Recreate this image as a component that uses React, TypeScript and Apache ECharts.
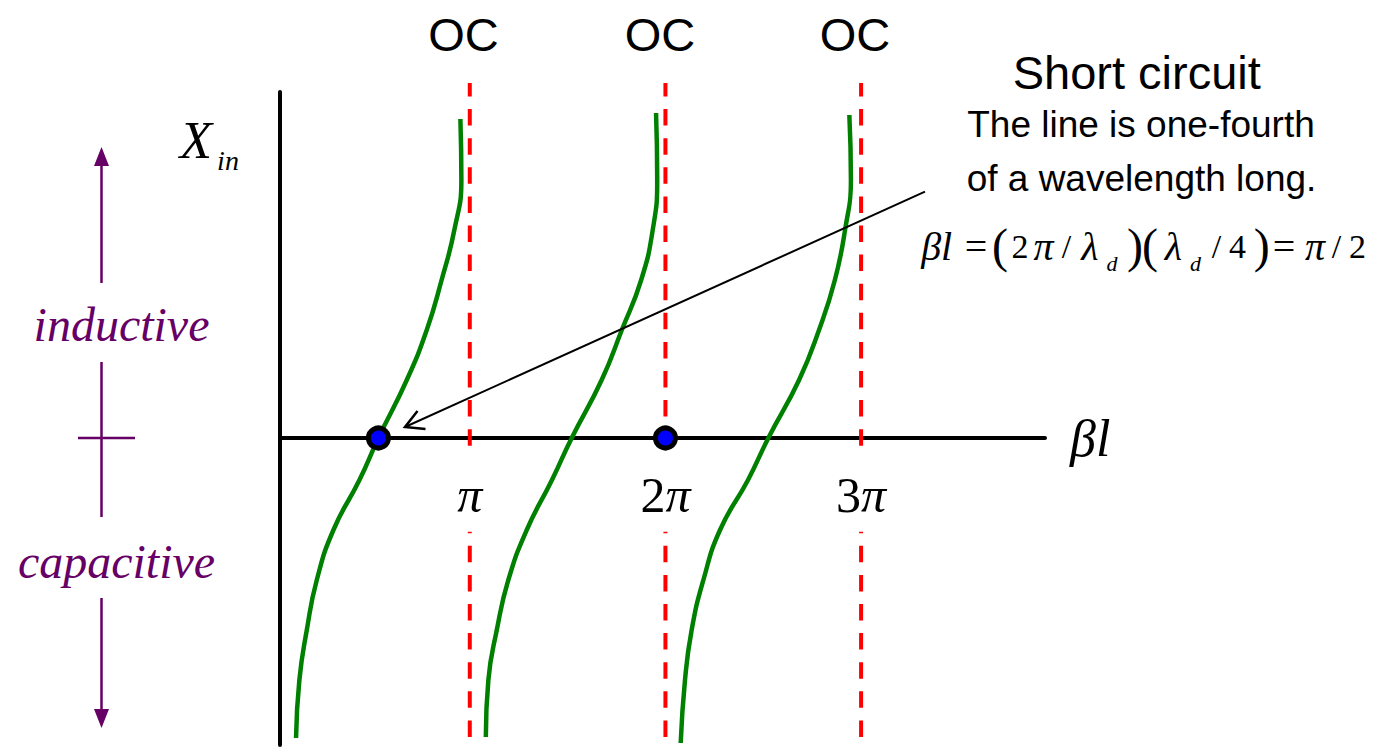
import React, { useEffect, useRef } from "react";
import * as echarts from "echarts";

// ---- data (x in multiples of π, y = input reactance in arbitrary units) ----
const PI_TICKS = [1, 2, 3];
const OC_LINES = [1, 2, 3];

const CURVE1_X = [0.112, 0.129, 0.167, 0.218, 0.303, 0.436, 0.533, 0.678, 0.78, 0.856, 0.921, 0.957, 0.952];
const CURVE1_Y = [-3.0, -2.42, -1.92, -1.42, -0.92, -0.42, 0, 0.58, 1.08, 1.58, 2.08, 2.58, 3.19];

const CURVE2_X = [1.082, 1.095, 1.138, 1.197, 1.291, 1.42, 1.521, 1.674, 1.777, 1.876, 1.935, 1.958, 1.952];
const CURVE2_Y = [-2.99, -2.42, -1.92, -1.42, -0.92, -0.42, 0, 0.58, 1.08, 1.58, 2.08, 2.58, 3.25];

const CURVE3_X = [2.078, 2.1, 2.134, 2.194, 2.279, 2.422, 2.526, 2.683, 2.785, 2.866, 2.918, 2.948, 2.94];
const CURVE3_Y = [-3.05, -2.42, -1.92, -1.42, -0.92, -0.42, 0, 0.58, 1.08, 1.58, 2.08, 2.58, 3.23];

const MARKED_POINTS_X = [0.533, 2.0];

const RED_TOP = 3.55;
const RED_GAP_TOP = -0.12;
const RED_GAP_BOTTOM = -0.937;
const RED_BOTTOM = -3.02;

const X_MIN = 0.03;
const X_MAX = 3.94;
const Y_MIN = -3.07;
const Y_MAX = 3.46;

const OC_LABEL = "OC";
const TITLE = "Short circuit";
const NOTE_1 = "The line is one-fourth";
const NOTE_2 = "of a wavelength long.";

const SERIF = "'Liberation Serif', 'Times New Roman', serif";
const SANS = "'Liberation Sans', Arial, sans-serif";
const PURPLE = "#660066";

function txt(x: number, y: number, text: string, size: number, family: string, opts: any = {}) {
  return {
    type: "text",
    x,
    y,
    z: 20,
    style: {
      text,
      fill: opts.fill || "#000",
      fontSize: size,
      fontFamily: family,
      fontStyle: opts.italic ? "italic" : "normal",
      align: opts.align || "center",
      textAlign: opts.align || "center",
      verticalAlign: "middle",
      textVerticalAlign: "middle",
    },
  };
}

export default function App() {
  const ref = useRef<HTMLDivElement>(null);

  useEffect(() => {
    if (!ref.current) return;
    const chart = echarts.init(ref.current, undefined, { renderer: "svg" });

    const curves = [
      [CURVE1_X, CURVE1_Y],
      [CURVE2_X, CURVE2_Y],
      [CURVE3_X, CURVE3_Y],
    ];

    const curveSeries = curves.map(([xs, ys]) => ({
      type: "line",
      data: xs.map((x, i) => [x, ys[i]]),
      smooth: 0.5,
      symbol: "none",
      showSymbol: false,
      silent: true,
      z: 4,
      lineStyle: { color: "#008000", width: 4.5 },
    }));

    const redSeries = OC_LINES.flatMap((k) => [
      {
        type: "line",
        data: [
          [k, RED_TOP],
          [k, RED_GAP_TOP],
        ],
        symbol: "none",
        clip: false,
        silent: true,
        z: 3,
        lineStyle: { color: "#ff0000", width: 4, type: [16.5, 12.6], dashOffset: 2.8 },
      },
      {
        type: "line",
        data: [
          [k, RED_GAP_BOTTOM],
          [k, RED_BOTTOM],
        ],
        symbol: "none",
        clip: false,
        silent: true,
        z: 3,
        lineStyle: { color: "#ff0000", width: 4, type: [16.5, 12.6], dashOffset: 15 },
      },
    ]);

    const dotSeries = {
      type: "scatter",
      data: MARKED_POINTS_X.map((x) => [x, 0]),
      symbol: "circle",
      symbolSize: 20,
      silent: true,
      z: 6,
      itemStyle: { color: "#0000ff", borderColor: "#000", borderWidth: 5, opacity: 1 },
    };

    const richSerif = {
      n: { fontFamily: SERIF, fontSize: 50, color: "#000" },
      i: { fontFamily: SERIF, fontSize: 50, fontStyle: "italic", color: "#000" },
      b: { fontFamily: SERIF, fontSize: 52, fontStyle: "italic", color: "#000" },
    };

    const tickLabelSeries = {
      type: "scatter",
      data: PI_TICKS.map((v) => [v, 0]),
      symbolSize: 2,
      silent: true,
      z: 7,
      itemStyle: { color: "rgba(255,255,255,0)", opacity: 1 },
      label: {
        show: true,
        position: [1, 58],
        align: "center",
        verticalAlign: "middle",
        color: "#000",
        textBorderWidth: 0,
        formatter: (p: any) => (p.value[0] === 1 ? "{i|π}" : `{n|${p.value[0]}}{i|π}`),
        rich: richSerif,
      },
      labelLayout: { hideOverlap: false },
    };

    // formula glyphs (layout)
    const FY = 246.5;
    const formula: any[] = [
      txt(936.7, FY, "βl", 40, SERIF, { italic: true }),
      txt(976, FY, "=", 40, SERIF),
      txt(1000, 245, "(", 48, SERIF),
      txt(1020, FY, "2", 34, SERIF),
      txt(1043.4, FY, "π", 40, SERIF, { italic: true }),
      txt(1066.5, FY, "/", 34, SERIF),
      txt(1090, FY, "λ", 40, SERIF, { italic: true }),
      txt(1112, 263.6, "d", 22, SERIF, { italic: true }),
      txt(1135, 245, ")", 48, SERIF),
      txt(1150, 245, "(", 48, SERIF),
      txt(1173.4, FY, "λ", 40, SERIF, { italic: true }),
      txt(1195.5, 263.6, "d", 22, SERIF, { italic: true }),
      txt(1216.5, FY, "/", 34, SERIF),
      txt(1237.5, FY, "4", 34, SERIF),
      txt(1261.7, 245, ")", 48, SERIF),
      txt(1284, FY, "=", 40, SERIF),
      txt(1315, FY, "π", 40, SERIF, { italic: true }),
      txt(1336.5, FY, "/", 34, SERIF),
      txt(1357.5, FY, "2", 34, SERIF),
    ];

    const purpleLine = (x1: number, y1: number, x2: number, y2: number) => ({
      type: "line",
      z: 20,
      shape: { x1, y1, x2, y2 },
      style: { stroke: PURPLE, lineWidth: 2.5 },
    });

    const graphics: any[] = [
      txt(463.5, 34, OC_LABEL, 47, SANS),
      txt(660, 34, OC_LABEL, 47, SANS),
      txt(855, 34, OC_LABEL, 47, SANS),
      txt(1136.7, 72, TITLE, 47, SANS),
      txt(1141, 124, NOTE_1, 37, SANS),
      txt(1141.5, 178, NOTE_2, 37, SANS),
      ...formula,
      txt(196, 139.5, "X", 53, SERIF, { italic: true }),
      txt(228, 160.5, "in", 28, SERIF, { italic: true }),
      // purple annotations
      purpleLine(101.5, 162, 101.5, 283),
      {
        type: "polygon",
        z: 20,
        shape: { points: [[101.5, 147], [94, 166], [109, 166]] },
        style: { fill: PURPLE },
      },
      txt(121.5, 324.8, "inductive", 48, SERIF, { italic: true, fill: PURPLE }),
      purpleLine(101.5, 362, 101.5, 517),
      purpleLine(78, 438, 135, 438),
      txt(116.5, 561, "capacitive", 48, SERIF, { italic: true, fill: PURPLE }),
      purpleLine(101.5, 598, 101.5, 712),
      {
        type: "polygon",
        z: 20,
        shape: { points: [[101.5, 728], [94, 709], [109, 709]] },
        style: { fill: PURPLE },
      },
      // black annotation arrow
      {
        type: "line",
        z: 20,
        shape: { x1: 925, y1: 191.7, x2: 405, y2: 427 },
        style: { stroke: "#000", lineWidth: 2 },
      },
      {
        type: "polyline",
        z: 20,
        shape: { points: [[417.5, 411], [405, 427], [425.5, 429]] },
        style: { stroke: "#000", lineWidth: 2.5, fill: null },
      },
    ];

    chart.setOption({
      animation: false,
      grid: {
        left: 280,
        top: 92,
        width: 765,
        height: 653,
        containLabel: false,
        outerBoundsMode: "none",
      },
      xAxis: {
        type: "value",
        min: X_MIN,
        max: X_MAX,
        axisLine: { onZero: true, lineStyle: { color: "#000", width: 4 } },
        axisTick: { show: false },
        splitLine: { show: false },
        axisLabel: { show: false },
        name: "{b|βl}",
        nameLocation: "end",
        nameGap: 25,
        nameTextStyle: { rich: richSerif, verticalAlign: "middle", align: "left" },
      },
      yAxis: {
        type: "value",
        min: Y_MIN,
        max: Y_MAX,
        axisLine: { show: true, onZero: false, lineStyle: { color: "#000", width: 4 } },
        axisTick: { show: false },
        axisLabel: { show: false },
        splitLine: { show: false },
      },
      series: [...redSeries, ...curveSeries, dotSeries, tickLabelSeries],
      graphic: { elements: graphics },
    });

    return () => chart.dispose();
  }, []);

  return (
    <div
      ref={ref}
      style={{ position: "absolute", left: 0, top: 0, width: 1392, height: 751, background: "#fff" }}
    />
  );
}
